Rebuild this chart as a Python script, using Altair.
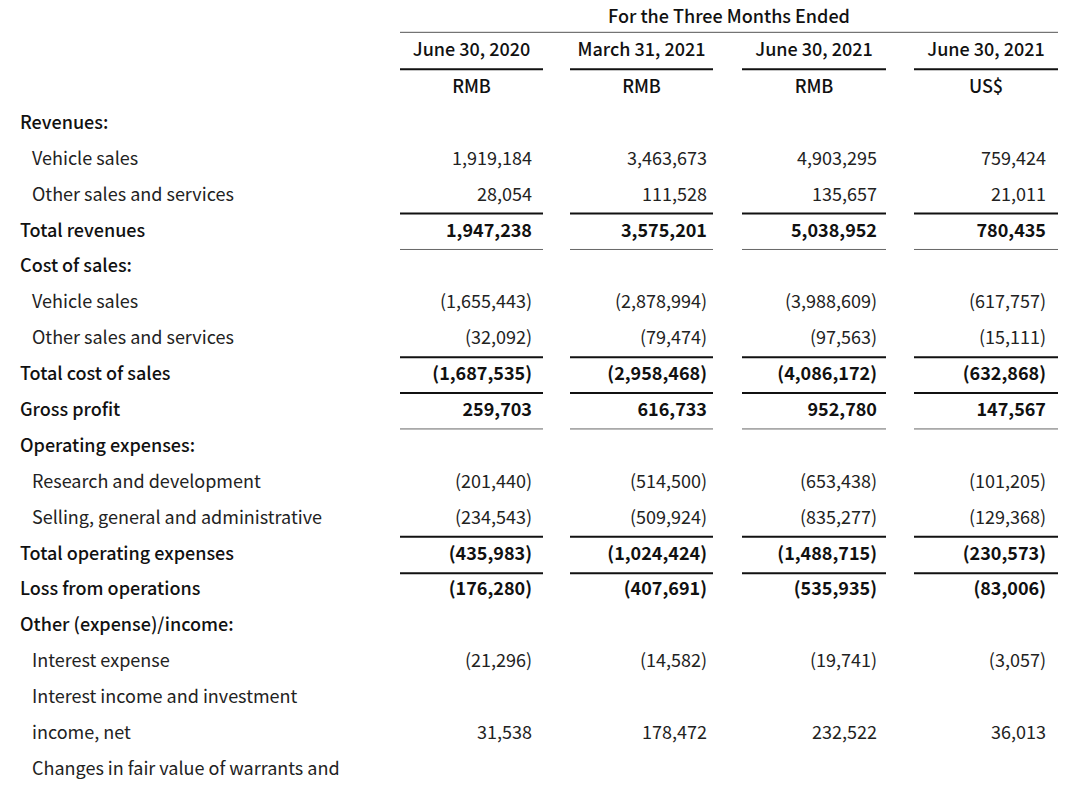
import altair as alt
import pandas as pd

# ---------------- data ----------------
row_labels = [
    "Revenues:", "Vehicle sales", "Other sales and services", "Total revenues",
    "Cost of sales:", "Vehicle sales", "Other sales and services", "Total cost of sales",
    "Gross profit", "Operating expenses:", "Research and development",
    "Selling, general and administrative", "Total operating expenses",
    "Loss from operations", "Other (expense)/income:", "Interest expense",
    "Interest income and investment", "income, net",
    "Changes in fair value of warrants and",
]
row_indent = [0, 1, 1, 0, 0, 1, 1, 0, 0, 0, 1, 1, 0, 0, 0, 1, 1, 1, 1]
row_heading = [1, 0, 0, 1, 1, 0, 0, 1, 1, 1, 0, 0, 1, 1, 1, 0, 0, 0, 0]
row_total = [0, 0, 0, 1, 0, 0, 0, 1, 1, 0, 0, 0, 1, 1, 0, 0, 0, 0, 0]

col_dates = ["June 30, 2020", "March 31, 2021", "June 30, 2021", "June 30, 2021"]
col_currency = ["RMB", "RMB", "RMB", "US$"]
header_title = "For the Three Months Ended"

jun_2020 = [None, 1919184, 28054, 1947238, None, -1655443, -32092, -1687535, 259703, None,
            -201440, -234543, -435983, -176280, None, -21296, None, 31538, None]
mar_2021 = [None, 3463673, 111528, 3575201, None, -2878994, -79474, -2958468, 616733, None,
            -514500, -509924, -1024424, -407691, None, -14582, None, 178472, None]
jun_2021 = [None, 4903295, 135657, 5038952, None, -3988609, -97563, -4086172, 952780, None,
            -653438, -835277, -1488715, -535935, None, -19741, None, 232522, None]
jun_2021_usd = [None, 759424, 21011, 780435, None, -617757, -15111, -632868, 147567, None,
                -101205, -129368, -230573, -83006, None, -3057, None, 36013, None]
columns_values = [jun_2020, mar_2021, jun_2021, jun_2021_usd]

# rules: (row boundary, column index list)
thick_rules = [(-1.52, [0, 1, 2, 3]), (2.5, [0, 1, 2, 3]), (6.5, [0, 1, 2, 3]),
               (7.5, [0, 1, 2, 3]), (11.5, [0, 1, 2, 3]), (12.52, [0, 1, 2, 3])]
thin_rules = [(3.5, [0, 1, 2, 3]), (8.5, [0, 1, 2, 3])]

# ---------------- layout ----------------
W, H = 1064, 774
X_DOMAIN = [8, 8 + W]
ROW_STEP = 35.94
Y0 = 123 - 8  # pixel of row 0 within plot
Y_DOMAIN = [-Y0 / ROW_STEP, (H - Y0) / ROW_STEP]
label_x = [20, 32]
col_left = [400, 570, 742, 914]
col_right_edge = [543, 713, 886, 1058]
num_right = [532, 707, 877, 1046]
FONT = "Noto Sans CJK SC"
FS = 18

def fmt(v):
    if v is None:
        return ""
    s = f"{abs(v):,}"
    return f"({s})" if v < 0 else s

labels_df = pd.DataFrame({
    "x": [label_x[i] for i in row_indent],
    "row": list(range(len(row_labels))),
    "text": row_labels,
    "strong": [h for h in row_heading],
})

num_rows = []
for ci, vals in enumerate(columns_values):
    for ri, v in enumerate(vals):
        if v is None:
            continue
        num_rows.append({"x": num_right[ci], "row": ri, "text": fmt(v), "strong": row_total[ri]})
nums_df = pd.DataFrame(num_rows)

hdr_rows = [{"x": (col_left[0] + col_right_edge[3]) / 2, "row": -2.96, "text": header_title}]
for ci in range(4):
    c = (col_left[ci] + col_right_edge[ci]) / 2
    hdr_rows.append({"x": c, "row": -2.03, "text": col_dates[ci]})
    hdr_rows.append({"x": c, "row": -1.0, "text": col_currency[ci]})
hdr_df = pd.DataFrame(hdr_rows)

def rules_df(spec):
    out = []
    for r, cols in spec:
        for ci in cols:
            out.append({"x": col_left[ci], "x2": col_right_edge[ci], "row": r})
    return pd.DataFrame(out)

thick_df = rules_df(thick_rules)
thin_df = rules_df(thin_rules)
top_df = pd.DataFrame([{"x": col_left[0], "x2": col_right_edge[3], "row": -2.55}])

xs = alt.X("x:Q", scale=alt.Scale(domain=X_DOMAIN, nice=False, zero=False), axis=None)
ys = alt.Y("row:Q", scale=alt.Scale(domain=Y_DOMAIN, nice=False, zero=False, reverse=True), axis=None)

def text_layer(df, align, weight, color="#1a1a1a"):
    return alt.Chart(df).mark_text(
        align=align, baseline="middle", font=FONT, fontSize=FS, fontWeight=weight, color=color
    ).encode(x=xs, y=ys, text="text:N")

lab_norm = text_layer(labels_df[labels_df.strong == 0], "left", 400, "#222222")
lab_bold = text_layer(labels_df[labels_df.strong == 1], "left", 500, "#111111")
num_norm = text_layer(nums_df[nums_df.strong == 0], "right", 400, "#222222")
num_bold = text_layer(nums_df[nums_df.strong == 1], "right", 700, "#111111")
hdr = text_layer(hdr_df, "center", 500, "#111111")

def rule_layer(df, color, width):
    return alt.Chart(df).mark_rule(color=color, strokeWidth=width).encode(
        x=xs, x2="x2:Q", y=ys
    )

chart = alt.layer(
    rule_layer(top_df, "#555555", 1),
    rule_layer(thick_df, "#111111", 2),
    rule_layer(thin_df, "#666666", 1),
    lab_norm, lab_bold, num_norm, num_bold, hdr,
).properties(
    width=W, height=H, padding=0,
    autosize=alt.AutoSizeParams(type="fit", contains="padding"),
    background="white",
).configure_view(stroke=None)

chart.save("out.html", embed_options={"renderer": "svg", "actions": False})
